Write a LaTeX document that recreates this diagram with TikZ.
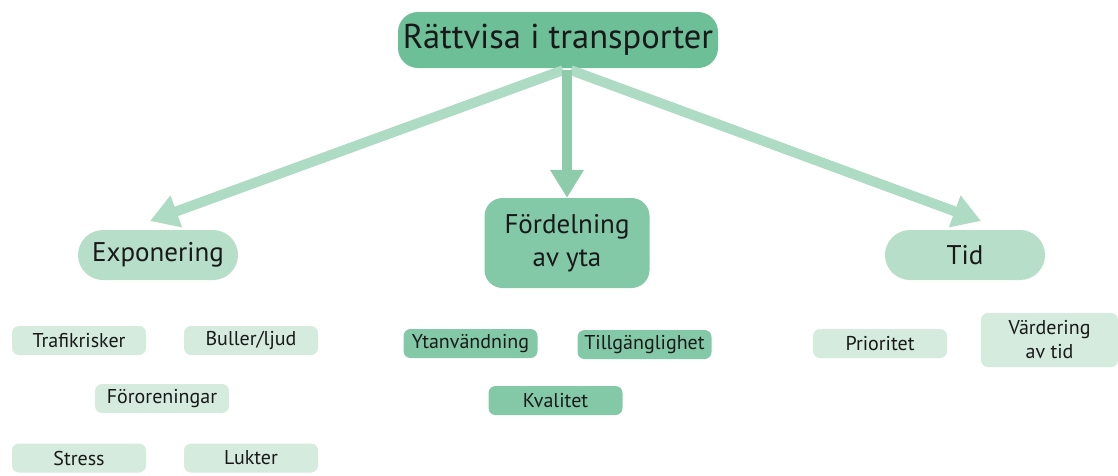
\documentclass[tikz,border=0pt]{standalone}
\usepackage{fontspec}
\setmainfont{PT Sans}
\usetikzlibrary{arrows.meta}
\definecolor{gtitle}{HTML}{6DBF98}
\definecolor{gmid}{HTML}{84C9A7}
\definecolor{glight}{HTML}{B6DEC8}
\definecolor{gpale}{HTML}{D4EBDD}
\definecolor{arrlight}{HTML}{AEDBC4}
\definecolor{arrmid}{HTML}{8DCBAB}
\tikzset{
  box/.style={draw=none, align=center, inner sep=0pt, text=black!90},
  leaf/.style={box, rounded corners=7pt, minimum width=134pt, minimum height=29pt,
    font=\fontsize{20}{22}\selectfont},
  branch/.style={box, rounded corners=25pt, minimum width=160pt, minimum height=50pt,
    fill=glight, font=\fontsize{27}{30}\selectfont},
  link/.style={line width=10pt, -{Triangle[length=28pt,width=32pt]}}
}
\begin{document}
\begin{tikzpicture}[x=1pt,y=-1pt]
\useasboundingbox (0,0) rectangle (1118,475);

% top concept
\node[box, fill=gtitle, rounded corners=20pt, minimum width=320pt, minimum height=56pt,
  font=\fontsize{34.5}{40}\selectfont] (root) at (558,40) {Rättvisa i transporter};

% three branches
\node[branch] (expo) at (158,255) {Exponering};
\node[box, fill=gmid, rounded corners=18pt, minimum width=165pt, minimum height=90pt,
  font=\fontsize{27}{33}\selectfont] (ford) at (567,243) {Fördelning\\av yta};
\node[branch] (tid) at (965,255) {Tid};

% leaves of Exponering
\node[leaf, fill=gpale] (trafik) at (79,340.5) {Trafikrisker};
\node[leaf, fill=gpale] (buller) at (251,340.5) {Buller/ljud};
\node[leaf, fill=gpale] (fororen) at (162,398.5) {Föroreningar};
\node[leaf, fill=gpale] (stress) at (79,458) {Stress};
\node[leaf, fill=gpale] (lukter) at (251,458) {Lukter};

% leaves of Fördelning av yta
\node[leaf, fill=gmid] (ytan) at (470.5,343.5) {Ytanvändning};
\node[leaf, fill=gmid] (tillg) at (644.5,344.5) {Tillgänglighet};
\node[leaf, fill=gmid] (kval) at (555.5,400.5) {Kvalitet};

% leaves of Tid
\node[leaf, fill=gpale] (prio) at (880,343.5) {Prioritet};
\node[leaf, fill=gpale, minimum width=137pt, minimum height=54pt,
  font=\fontsize{20}{24}\selectfont] (varde) at (1049.5,340) {Värdering\\av tid};

% connectors from the top concept
\coordinate (s) at ([yshift=-2pt]root.south -| ford.north);
\coordinate (tipL) at (150,221);
\coordinate (tipR) at (981,221);
\draw[link, arrlight] ([xshift=-4pt]s) -- (tipL);
\draw[link, arrlight] ([xshift=4pt]s) -- (tipR);
\draw[link, arrmid] (s) -- (ford.north);
\end{tikzpicture}
\end{document}
